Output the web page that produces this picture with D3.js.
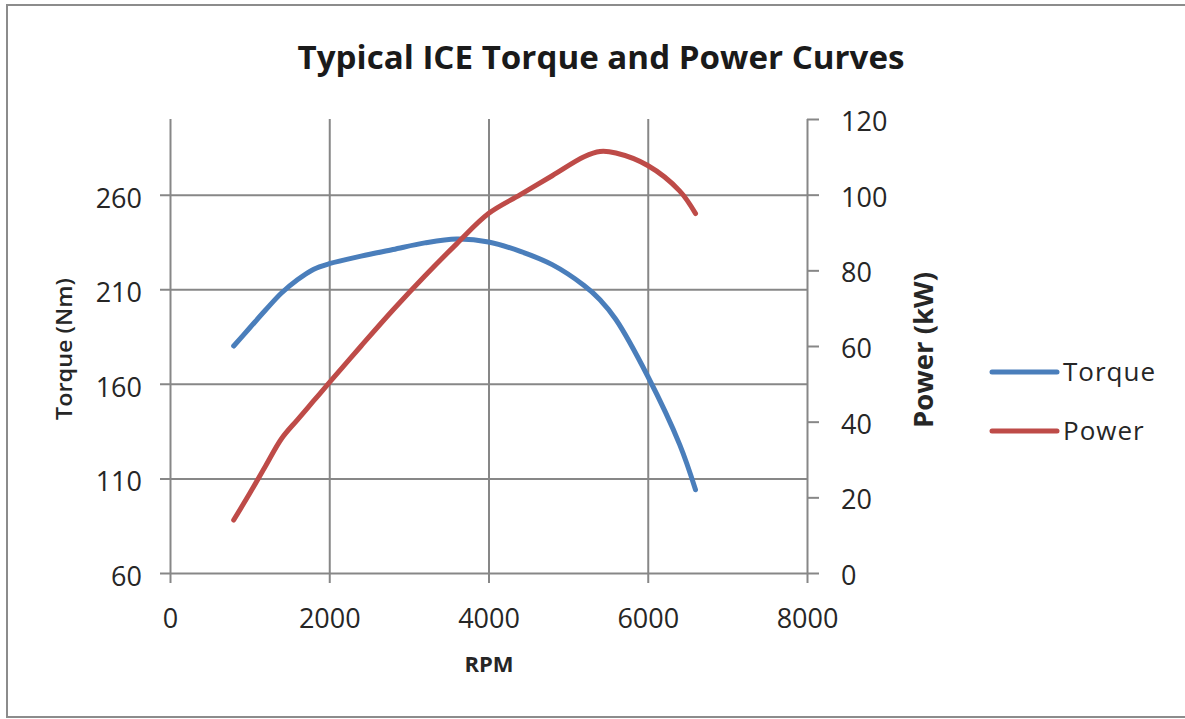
<!DOCTYPE html>
<html>
<head>
<meta charset="utf-8">
<script src="https://cdn.jsdelivr.net/npm/d3@7"></script>
<style>
    body { margin: 0; background: #ffffff; overflow: hidden; }
    text { font-family: "Open Sans", sans-serif; fill: #262626; }
</style>
</head>
<body>
<div id="chart"></div>
<script>
// Data
const rpm    = [800, 1000, 1200, 1400, 1600, 1800, 2000, 2400, 2800, 3200, 3600, 4000, 4400, 4800, 5200, 5400, 5600, 6000, 6400, 6600];
const torque = [180, 189.5, 199, 208, 215, 220.5, 223.5, 227.5, 231, 234.5, 236.5, 235, 230, 223, 212, 204.5, 194, 164, 128, 104];
const power  = [14, 21, 28.3, 35.5, 40.5, 45.4, 50.3, 60, 69.5, 78.5, 87, 95, 100, 105, 110, 111.4, 111, 107.7, 101, 95];

const seriesNames = ['Torque', 'Power'];
const rpmTicks = [0, 2000, 4000, 6000, 8000];
const torqueTicks = [60, 110, 160, 210, 260];
const powerTicks = [0, 20, 40, 60, 80, 100, 120];

let width = 1185,
    height = 719,
    plot = {left: 170, right: 807, top: 119, bottom: 573};

let colors = {Torque: '#4a7ebb', Power: '#be4b48'},
    gridColor = '#878787';

let x = d3.scaleLinear().domain([0, 8000]).range([plot.left, plot.right]);
let yTorque = d3.scaleLinear().domain([60, 300]).range([plot.bottom, plot.top]);
let yPower = d3.scaleLinear().domain([0, 120]).range([plot.bottom, plot.top]);

let svg = d3.select('#chart')
    .append('svg')
    .attr('width', width)
    .attr('height', height)
    .style('display', 'block');

drawFrame();
drawXAxis();
drawLeftAxis();
drawRightAxis();
drawLines();
drawTitles();
drawLegend();

function drawFrame() {
    // the chart frame runs off the right edge of the picture
    svg.append('path')
        .attr('d', 'M' + width + ',5H7V717H' + width)
        .attr('fill', 'none')
        .attr('stroke', '#8c8c8c')
        .attr('stroke-width', 2);
}

function styleAxis(g) {
    g.select('.domain').remove();
    g.selectAll('.tick line')
        .attr('stroke', gridColor)
        .attr('stroke-width', 2);
    g.selectAll('.tick text')
        .attr('font-size', 27)
        .attr('font-family', '"Open Sans", sans-serif')
        .attr('fill', '#262626');
}

function drawXAxis() {
    // vertical grid lines, also the left and right axis lines
    let xAxis = d3.axisBottom(x)
        .tickValues(rpmTicks)
        .tickFormat(d3.format('d'))
        .tickSizeInner(-(plot.bottom - plot.top))
        .tickSizeOuter(0)
        .tickPadding(36);

    let g = svg.append('g')
        .attr('transform', 'translate(0,' + plot.bottom + ')')
        .call(xAxis)
        .call(styleAxis);

    g.selectAll('.tick line').attr('y1', 10);
}

function drawLeftAxis() {
    let yAxis = d3.axisLeft(yTorque)
        .tickValues(torqueTicks)
        .tickSizeInner(-(plot.right - plot.left))
        .tickSizeOuter(0)
        .tickPadding(28);

    let g = svg.append('g')
        .attr('transform', 'translate(' + plot.left + ',0)')
        .call(yAxis)
        .call(styleAxis);

    g.selectAll('.tick line').attr('x1', -10);
    g.selectAll('.tick text').attr('dy', '0.46em');
}

function drawRightAxis() {
    let yAxis = d3.axisRight(yPower)
        .tickValues(powerTicks)
        .tickSizeInner(12)
        .tickSizeOuter(0)
        .tickPadding(22);

    let g = svg.append('g')
        .attr('transform', 'translate(' + plot.right + ',0)')
        .call(yAxis)
        .call(styleAxis);

    g.selectAll('.tick text').attr('dy', '0.42em');
}

function drawLines() {
    let torqueLine = d3.line()
        .x(function(d, i) { return x(rpm[i]); })
        .y(function(d) { return yTorque(d); })
        .curve(d3.curveCatmullRom.alpha(0.5));

    let powerLine = d3.line()
        .x(function(d, i) { return x(rpm[i]); })
        .y(function(d) { return yPower(d); })
        .curve(d3.curveCatmullRom.alpha(0.5));

    svg.append('path')
        .datum(torque)
        .attr('d', torqueLine)
        .attr('fill', 'none')
        .attr('stroke', colors.Torque)
        .attr('stroke-width', 5)
        .attr('stroke-linecap', 'round')
        .attr('stroke-linejoin', 'round');

    svg.append('path')
        .datum(power)
        .attr('d', powerLine)
        .attr('fill', 'none')
        .attr('stroke', colors.Power)
        .attr('stroke-width', 5)
        .attr('stroke-linecap', 'round')
        .attr('stroke-linejoin', 'round');
}

function drawTitles() {
    svg.append('text')
        .attr('x', 601)
        .attr('y', 69)
        .attr('text-anchor', 'middle')
        .attr('font-size', 32)
        .attr('font-weight', 'bold')
        .attr('textLength', 607)
        .attr('lengthAdjust', 'spacingAndGlyphs')
        .style('fill', '#1a1a1a')
        .text('Typical ICE Torque and Power Curves');

    svg.append('text')
        .attr('x', 489)
        .attr('y', 672)
        .attr('text-anchor', 'middle')
        .attr('font-size', 22)
        .attr('font-weight', 'bold')
        .text('RPM');

    // left axis title, rotated
    svg.append('text')
        .attr('transform', 'translate(72,349) rotate(-90)')
        .attr('text-anchor', 'middle')
        .attr('font-size', 22)
        .attr('font-weight', 600)
        .attr('textLength', 142)
        .attr('lengthAdjust', 'spacingAndGlyphs')
        .text('Torque (Nm)');

    svg.append('text')
        .attr('transform', 'translate(933,350) rotate(-90)')
        .attr('text-anchor', 'middle')
        .attr('font-size', 27)
        .attr('font-weight', 'bold')
        .attr('textLength', 156)
        .attr('lengthAdjust', 'spacingAndGlyphs')
        .text('Power (kW)');
}

function drawLegend() {
    let legend = svg.append('g')
        .attr('transform', 'translate(992,372)');

    let items = legend.selectAll('g.item')
        .data(seriesNames)
        .enter()
        .append('g')
        .attr('class', 'item')
        .attr('transform', function(d, i) { return 'translate(0,' + (i * 59) + ')'; });

    items.append('line')
        .attr('x1', 0)
        .attr('x2', 65)
        .attr('y1', 0)
        .attr('y2', 0)
        .attr('stroke', function(d) { return colors[d]; })
        .attr('stroke-width', 5)
        .attr('stroke-linecap', 'round');

    items.append('text')
        .attr('x', 71)
        .attr('dy', '0.36em')
        .attr('font-size', 26)
        .attr('letter-spacing', 1)
        .text(function(d) { return d; });
}
</script>
</body>
</html>
